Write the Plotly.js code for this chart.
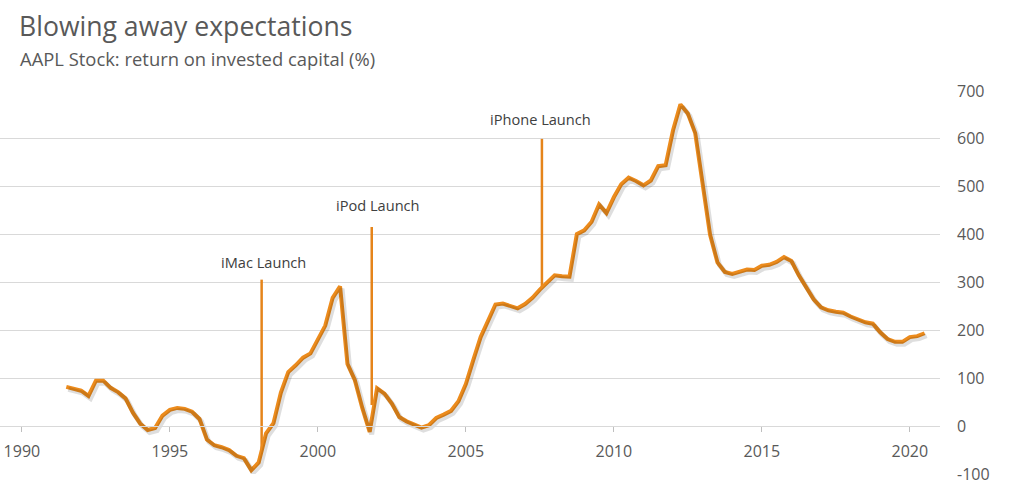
<!DOCTYPE html>
<html>
<head>
<meta charset="utf-8">
<script src="https://cdn.plot.ly/plotly-3.0.1.min.js"></script>
<style>
  html, body { margin: 0; padding: 0; background: #ffffff; }
  #chart { width: 1024px; height: 492px; }
</style>
</head>
<body>
<div id="chart"></div>
<script>
// Quarter dates (decimal years)
const dates = [
  1991.50, 1991.75, 1992.00, 1992.25, 1992.50, 1992.75, 1993.00, 1993.25, 1993.50, 1993.75,
  1994.00, 1994.25, 1994.50, 1994.75, 1995.00, 1995.25, 1995.50, 1995.75, 1996.00, 1996.25,
  1996.50, 1996.75, 1997.00, 1997.25, 1997.50, 1997.75, 1998.00, 1998.25, 1998.50, 1998.75,
  1999.00, 1999.25, 1999.50, 1999.75, 2000.00, 2000.25, 2000.50, 2000.75, 2001.00, 2001.25,
  2001.50, 2001.75, 2002.00, 2002.25, 2002.50, 2002.75, 2003.00, 2003.25, 2003.50, 2003.75,
  2004.00, 2004.25, 2004.50, 2004.75, 2005.00, 2005.25, 2005.50, 2005.75, 2006.00, 2006.25,
  2006.50, 2006.75, 2007.00, 2007.25, 2007.50, 2007.75, 2008.00, 2008.25, 2008.50, 2008.75,
  2009.00, 2009.25, 2009.50, 2009.75, 2010.00, 2010.25, 2010.50, 2010.75, 2011.00, 2011.25,
  2011.50, 2011.75, 2012.00, 2012.25, 2012.50, 2012.75, 2013.00, 2013.25, 2013.50, 2013.75,
  2014.00, 2014.25, 2014.50, 2014.75, 2015.00, 2015.25, 2015.50, 2015.75, 2016.00, 2016.25,
  2016.50, 2016.75, 2017.00, 2017.25, 2017.50, 2017.75, 2018.00, 2018.25, 2018.50, 2018.75,
  2019.00, 2019.25, 2019.50, 2019.75, 2020.00, 2020.25, 2020.50
];

// Return on invested capital (%)
const roic = [
  82, 78, 74, 63, 95, 95, 80, 71, 58, 28,
  5, -8, -4, 22, 34, 38, 36, 30, 15, -28,
  -40, -44, -50, -62, -67, -92, -76, -15, 6, 70,
  113, 127, 143, 152, 183, 210, 268, 292, 130, 96,
  38, -12, 79, 68, 47, 19, 10, 3, -3, 2,
  17, 24, 32, 52, 88, 138, 186, 220, 254, 256,
  252, 246, 255, 268, 285, 300, 315, 313, 312, 401,
  409, 427, 463, 445, 478, 505, 519, 512, 503, 513,
  543, 545, 618, 672, 653, 612, 505, 400, 342, 322,
  318, 322, 327, 326, 335, 337, 343, 353, 345, 315,
  288, 265, 248, 242, 239, 237, 229, 222, 217, 214,
  196, 182, 176, 176, 186, 188, 194
];

// Launch events
const eventNames = ["iMac Launch", "iPod Launch", "iPhone Launch"];
const eventDates = [1998.10, 2001.82, 2007.57];
const eventTop = [306, 416, 600];
const eventBottom = [-54, 44, 291];

// Axis ticks
const xTickVals = [1990, 1995, 2000, 2005, 2010, 2015, 2020];
const xTickText = ["1990", "1995", "2000", "2005", "2010", "2015", "2020"];
const yTickVals = [-100, 0, 100, 200, 300, 400, 500, 600, 700];
const yTickText = ["-100", "0", "100", "200", "300", "400", "500", "600", "700"];

const ORANGE = "#EC8B1C";
const FONT = "Open Sans, sans-serif";

const xRange = [1989.26, 2021.02];
const yRange = [-100, 700];
// shadow offset (in pixels -> data units)
const pxX = (xRange[1] - xRange[0]) / 940;
const pxY = (yRange[1] - yRange[0]) / 383;
const sx = 2.0, sy = 2.5;

const traces = [];

// shadow trace on offset overlay axes
traces.push({
  x: dates, y: roic, type: "scatter", mode: "lines",
  xaxis: "x2", yaxis: "y2",
  line: { color: "rgba(0,0,0,0.13)", width: 5 },
  hoverinfo: "skip", showlegend: false
});

// event lines
for (let i = 0; i < eventNames.length; i++) {
  traces.push({
    x: [eventDates[i], eventDates[i]],
    y: [eventTop[i], eventBottom[i]],
    type: "scatter", mode: "lines",
    line: { color: "#E5841A", width: 2.5 },
    showlegend: false, hoverinfo: "skip"
  });
}

// main line
traces.push({
  x: dates, y: roic, type: "scatter", mode: "lines",
  line: { color: ORANGE, width: 4 },
  showlegend: false, name: "ROIC"
});

const annotations = [
  {
    xref: "paper", yref: "paper", x: 17 / 940, y: 1.170,
    xanchor: "left", yanchor: "middle", showarrow: false,
    text: "Blowing away expectations",
    font: { family: FONT, size: 26.6, color: "#595959" }
  },
  {
    xref: "paper", yref: "paper", x: 18 / 940, y: 1.0836,
    xanchor: "left", yanchor: "middle", showarrow: false,
    text: "AAPL Stock: return on invested capital (%)",
    font: { family: FONT, size: 18.4, color: "#595959" }
  }
];

const labelDx = [0.06, 0.2, -0.04];
const labelDy = [36, 45, 41];
for (let i = 0; i < eventNames.length; i++) {
  annotations.push({
    xref: "x", yref: "y",
    x: eventDates[i] + labelDx[i], y: eventTop[i] + labelDy[i],
    xanchor: "center", yanchor: "middle", showarrow: false,
    text: eventNames[i],
    font: { family: FONT, size: 14.6, color: "#404040" }
  });
}

const layout = {
  width: 1024, height: 492,
  margin: { l: 0, r: 84, t: 91, b: 18 },
  paper_bgcolor: "#ffffff", plot_bgcolor: "#ffffff",
  showlegend: false,
  font: { family: FONT, color: "#595959" },
  xaxis: {
    range: xRange, anchor: "free", position: 100 / 800,
    tickvals: xTickVals, ticktext: xTickText,
    ticks: "outside", ticklen: 5, tickcolor: "#BFBFBF", tickwidth: 1,
    showline: true, linecolor: "#D9D9D9", linewidth: 1,
    showgrid: false, zeroline: false,
    tickfont: { family: FONT, size: 16, color: "#595959" },
    ticklabelstandoff: 6
  },
  yaxis: {
    range: yRange, side: "right",
    tickvals: yTickVals, ticktext: yTickText,
    ticks: "", showgrid: true, gridcolor: "#D9D9D9", gridwidth: 1,
    zeroline: false, showline: false,
    tickfont: { family: FONT, size: 16, color: "#595959" },
    ticklabelstandoff: 16
  },
  xaxis2: {
    range: [xRange[0] - sx * pxX, xRange[1] - sx * pxX],
    overlaying: "x", visible: false
  },
  yaxis2: {
    range: [yRange[0] + sy * pxY, yRange[1] + sy * pxY],
    overlaying: "y", visible: false
  },
  annotations: annotations
};

Plotly.newPlot("chart", traces, layout, { staticPlot: true, displayModeBar: false });
</script>
</body>
</html>
